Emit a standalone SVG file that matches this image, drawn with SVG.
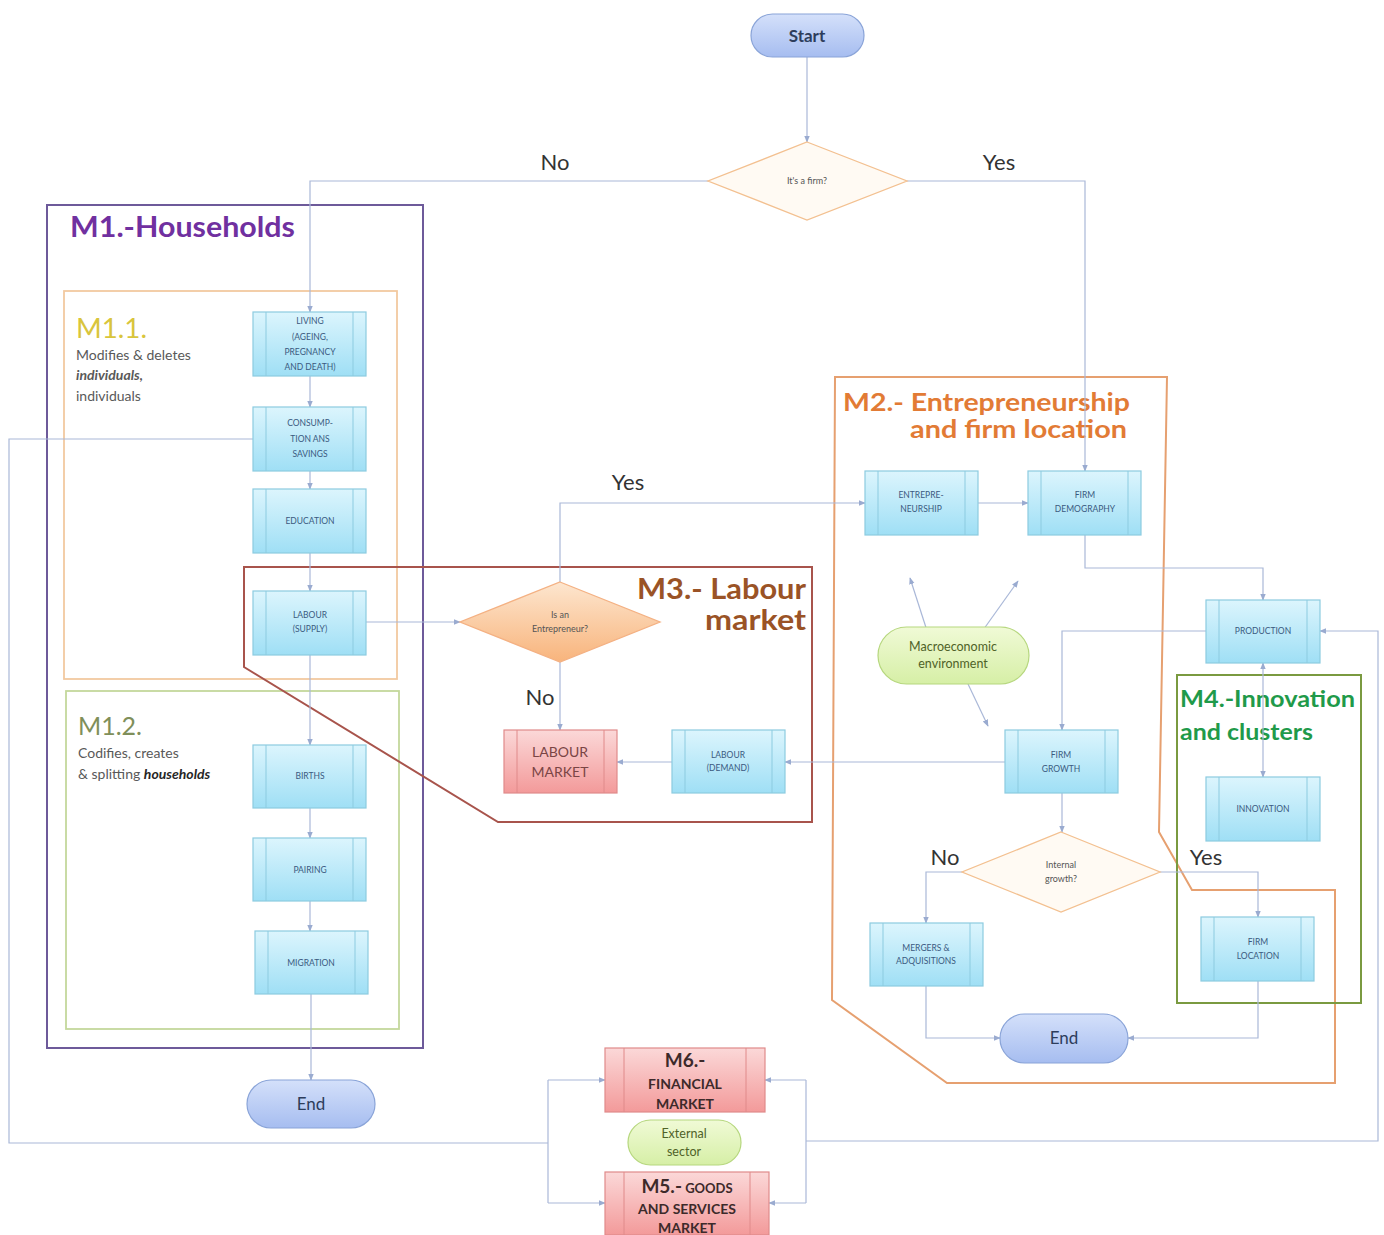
<svg xmlns="http://www.w3.org/2000/svg" width="1384" height="1235" viewBox="0 0 1384 1235">
<defs>
<linearGradient id="gCyan" x1="0" y1="0" x2="0" y2="1"><stop offset="0" stop-color="#dcf5fd"/><stop offset="1" stop-color="#9fdff5"/></linearGradient>
<linearGradient id="gRed" x1="0" y1="0" x2="0" y2="1"><stop offset="0" stop-color="#fbd8d8"/><stop offset="1" stop-color="#f39a9a"/></linearGradient>
<linearGradient id="gBlue" x1="0" y1="0" x2="0" y2="1"><stop offset="0" stop-color="#d4e0fa"/><stop offset="1" stop-color="#a6bdf0"/></linearGradient>
<linearGradient id="gGreen" x1="0" y1="0" x2="0" y2="1"><stop offset="0" stop-color="#f0fad6"/><stop offset="1" stop-color="#d6efa6"/></linearGradient>
<linearGradient id="gOrange" x1="0" y1="0" x2="0" y2="1"><stop offset="0" stop-color="#fde6cf"/><stop offset="1" stop-color="#f8b47c"/></linearGradient>
<marker id="ar" viewBox="0 0 10 10" refX="9" refY="5" markerWidth="7" markerHeight="7" orient="auto-start-reverse" markerUnits="userSpaceOnUse"><path d="M0,1 L10,5 L0,9 z" fill="#9aabd0"/></marker>
</defs>
<style>
.proc rect.o{fill:url(#gCyan);stroke:#8ccbe0;stroke-width:1.2}
.proc line{stroke:#8ccbe0;stroke-width:1}
.proc text{font-family:Lato,"Liberation Sans",sans-serif;font-size:8.5px;fill:#3a5a80;text-anchor:middle}
.red rect.o{fill:url(#gRed);stroke:#e08a8a;stroke-width:1.2}
.red line{stroke:#e08a8a;stroke-width:1}
.red text{font-family:Lato,"Liberation Sans",sans-serif;font-weight:bold;fill:#3d2a2a;text-anchor:middle}
.red text.plain{font-weight:normal;fill:#7a4545;font-size:14px}
.term rect{fill:url(#gBlue);stroke:#8aa4d8;stroke-width:1.2}
.term text{font-family:Lato,"Liberation Sans",sans-serif;font-size:17px;fill:#2d3d5c;text-anchor:middle}
.env rect{fill:url(#gGreen);stroke:#b6d77e;stroke-width:1.2}
.env text{font-family:Lato,"Liberation Sans",sans-serif;font-size:12.5px;fill:#4f6228;text-anchor:middle}
.dec polygon{fill:#fffaf3;stroke:#f3c090;stroke-width:1.3}
.dec text{font-family:Lato,"Liberation Sans",sans-serif;font-size:9px;fill:#555;text-anchor:middle}
.conn path{fill:none;stroke:#aab8d8;stroke-width:1.2}
.lbl{font-family:Lato,"Liberation Sans",sans-serif;font-size:22px;fill:#333}
.desc{font-family:Lato,"Liberation Sans",sans-serif;font-size:14px;fill:#595959}
.title{font-family:Lato,"Liberation Sans",sans-serif;font-weight:bold}
</style>
<rect width="1384" height="1235" fill="#ffffff"/>

<!-- module containers -->
<g id="m1">
<rect x="47" y="205" width="376" height="843" fill="none" stroke="#6d5a9a" stroke-width="2"/>
<text x="70" y="237" class="title" font-size="28" fill="#7030a0" textLength="225" lengthAdjust="spacingAndGlyphs">M1.-Households</text>
</g>
<g id="m11">
<rect x="64" y="291" width="333" height="388" fill="none" stroke="#f2c9a0" stroke-width="1.8"/>
<text x="76" y="338" font-family="Lato,'Liberation Sans',sans-serif" font-size="27" fill="#d9c53c" textLength="71" lengthAdjust="spacingAndGlyphs">M1.1.</text>
<text x="76" y="360" class="desc">Modifies &amp; deletes</text>
<text x="76" y="380" class="desc" font-weight="bold" font-style="italic" fill="#262626">individuals,</text>
<text x="76" y="401" class="desc">individuals</text>
</g>
<g id="m12">
<rect x="66" y="691" width="333" height="338" fill="none" stroke="#c4d89c" stroke-width="1.8"/>
<text x="78" y="735" font-family="Lato,'Liberation Sans',sans-serif" font-size="25" fill="#7f8f5a">M1.2.</text>
<text x="78" y="758" class="desc">Codifies, creates</text>
<text x="78" y="779" class="desc">&amp; splitting <tspan font-weight="bold" font-style="italic" fill="#262626">households</tspan></text>
</g>
<g id="m3">
<polygon points="244,567 812,567 812,822 498,822 244,667" fill="none" stroke="#a8544c" stroke-width="2"/>
<text x="806" y="599" class="title" font-size="28" fill="#9a5326" text-anchor="end" textLength="169" lengthAdjust="spacingAndGlyphs">M3.- Labour</text>
<text x="806" y="630" class="title" font-size="28" fill="#9a5326" text-anchor="end" textLength="101" lengthAdjust="spacingAndGlyphs">market</text>
</g>
<g id="m2">
<polygon points="835,377 1167,377 1159,832 1192,890 1335,890 1335,1083 947,1083 832,1000" fill="none" stroke="#e6a070" stroke-width="2"/>
<text x="843" y="411" class="title" font-size="25" fill="#e27b35" textLength="287" lengthAdjust="spacingAndGlyphs">M2.- Entrepreneurship</text>
<text x="1127" y="438" class="title" font-size="25" fill="#e27b35" text-anchor="end" textLength="217" lengthAdjust="spacingAndGlyphs">and firm location</text>
</g>
<g id="m4">
<rect x="1177" y="675" width="184" height="328" fill="none" stroke="#7a9a40" stroke-width="2"/>
<text x="1180" y="707" class="title" font-size="23" fill="#1f9a4a" textLength="175" lengthAdjust="spacingAndGlyphs">M4.-Innovation</text>
<text x="1180" y="740" class="title" font-size="23" fill="#1f9a4a" textLength="133" lengthAdjust="spacingAndGlyphs">and clusters</text>
</g>

<!-- connectors -->
<g id="connectors" class="conn">
<path d="M807,57 V142" marker-end="url(#ar)"/>
<path d="M708,181 H310 V312" marker-end="url(#ar)"/>
<path d="M907,181 H1085 V471" marker-end="url(#ar)"/>
<path d="M310,376 V407" marker-end="url(#ar)"/>
<path d="M310,471 V489" marker-end="url(#ar)"/>
<path d="M310,553 V591" marker-end="url(#ar)"/>
<path d="M310,655 V745" marker-end="url(#ar)"/>
<path d="M310,808 V838" marker-end="url(#ar)"/>
<path d="M310,901 V931" marker-end="url(#ar)"/>
<path d="M311,994 V1080" marker-end="url(#ar)"/>
<path d="M253,439 H9 V1143 H548"/>
<path d="M548,1080 V1203"/>
<path d="M548,1080 H605" marker-end="url(#ar)"/>
<path d="M548,1203 H605" marker-end="url(#ar)"/>
<path d="M806,1080 V1203"/>
<path d="M806,1080 H765" marker-end="url(#ar)"/>
<path d="M806,1203 H769" marker-end="url(#ar)"/>
<path d="M806,1141 H1378 V631 H1320" marker-end="url(#ar)"/>
<path d="M366,622 H460" marker-end="url(#ar)"/>
<path d="M560,582 V503 H865" marker-end="url(#ar)"/>
<path d="M560,662 V730" marker-end="url(#ar)"/>
<path d="M672,762 H617" marker-end="url(#ar)"/>
<path d="M1005,762 H785" marker-end="url(#ar)"/>
<path d="M978,503 H1028" marker-end="url(#ar)"/>
<path d="M1085,535 V568 H1263 V600" marker-end="url(#ar)"/>
<path d="M1206,631 H1062 V730" marker-end="url(#ar)"/>
<path d="M1263,663 V777" marker-start="url(#ar)" marker-end="url(#ar)"/>
<path d="M930,640 L910,578" marker-end="url(#ar)"/>
<path d="M976,640 L1018,581" marker-end="url(#ar)"/>
<path d="M968,684 L988,726" marker-end="url(#ar)"/>
<path d="M1062,793 V832" marker-end="url(#ar)"/>
<path d="M962,872 H926 V923" marker-end="url(#ar)"/>
<path d="M1160,872 H1258 V917" marker-end="url(#ar)"/>
<path d="M926,986 V1038 H1000" marker-end="url(#ar)"/>
<path d="M1258,981 V1038 H1128" marker-end="url(#ar)"/>
</g>

<!-- branch labels -->
<text x="555" y="170" class="lbl" text-anchor="middle">No</text>
<text x="999" y="170" class="lbl" text-anchor="middle">Yes</text>
<text x="628" y="490" class="lbl" text-anchor="middle">Yes</text>
<text x="540" y="705" class="lbl" text-anchor="middle">No</text>
<text x="945" y="865" class="lbl" text-anchor="middle">No</text>
<text x="1206" y="865" class="lbl" text-anchor="middle">Yes</text>

<!-- terminals -->
<g id="start" class="term"><rect x="751" y="14" width="113" height="43" rx="21.5"/><text x="807" y="42" font-weight="bold" font-size="16">Start</text></g>
<g id="end1" class="term"><rect x="247" y="1080" width="128" height="48" rx="24"/><text x="311" y="1110">End</text></g>
<g id="end2" class="term"><rect x="1000" y="1014" width="128" height="49" rx="24.5"/><text x="1064" y="1044">End</text></g>

<!-- decisions -->
<g id="firm-q" class="dec"><polygon points="807,142 907,181 807,220 708,181"/><text x="807" y="184">It's a firm?</text></g>
<g id="entre-q" class="dec"><polygon points="560,582 660,622 560,662 460,622" style="fill:url(#gOrange);stroke:#f4b183"/><text x="560" y="618">Is an</text><text x="560" y="632">Entrepreneur?</text></g>
<g id="growth-q" class="dec"><polygon points="1061,832 1160,872 1061,912 962,872"/><text x="1061" y="868">Internal</text><text x="1061" y="882">growth?</text></g>

<!-- environments -->
<g id="macro" class="env"><rect x="878" y="627" width="151" height="57" rx="28.5"/><text x="953" y="651">Macroeconomic</text><text x="953" y="668">environment</text></g>
<g id="external" class="env"><rect x="628" y="1120" width="113" height="45" rx="22.5"/><text x="684" y="1138">External</text><text x="684" y="1156">sector</text></g>

<!-- process boxes -->
<g id="living" class="proc"><rect class="o" x="253" y="312" width="113" height="64"/><line x1="266" y1="312" x2="266" y2="376"/><line x1="353" y1="312" x2="353" y2="376"/><text x="310" y="324">LIVING</text><text x="310" y="340">(AGEING,</text><text x="310" y="355">PREGNANCY</text><text x="310" y="370">AND DEATH)</text></g>
<g id="consumption" class="proc"><rect class="o" x="253" y="407" width="113" height="64"/><line x1="266" y1="407" x2="266" y2="471"/><line x1="353" y1="407" x2="353" y2="471"/><text x="310" y="426">CONSUMP-</text><text x="310" y="442">TION  ANS</text><text x="310" y="457">SAVINGS</text></g>
<g id="education" class="proc"><rect class="o" x="253" y="489" width="113" height="64"/><line x1="266" y1="489" x2="266" y2="553"/><line x1="353" y1="489" x2="353" y2="553"/><text x="310" y="524">EDUCATION</text></g>
<g id="labour-supply" class="proc"><rect class="o" x="253" y="591" width="113" height="64"/><line x1="266" y1="591" x2="266" y2="655"/><line x1="353" y1="591" x2="353" y2="655"/><text x="310" y="618">LABOUR</text><text x="310" y="632">(SUPPLY)</text></g>
<g id="births" class="proc"><rect class="o" x="253" y="745" width="113" height="63"/><line x1="266" y1="745" x2="266" y2="808"/><line x1="353" y1="745" x2="353" y2="808"/><text x="310" y="779">BIRTHS</text></g>
<g id="pairing" class="proc"><rect class="o" x="253" y="838" width="113" height="63"/><line x1="266" y1="838" x2="266" y2="901"/><line x1="353" y1="838" x2="353" y2="901"/><text x="310" y="873">PAIRING</text></g>
<g id="migration" class="proc"><rect class="o" x="255" y="931" width="113" height="63"/><line x1="268" y1="931" x2="268" y2="994"/><line x1="355" y1="931" x2="355" y2="994"/><text x="311" y="966">MIGRATION</text></g>
<g id="labour-demand" class="proc"><rect class="o" x="672" y="730" width="113" height="63"/><line x1="685" y1="730" x2="685" y2="793"/><line x1="772" y1="730" x2="772" y2="793"/><text x="728" y="758">LABOUR</text><text x="728" y="771">(DEMAND)</text></g>
<g id="entrepreneurship" class="proc"><rect class="o" x="865" y="471" width="113" height="64"/><line x1="878" y1="471" x2="878" y2="535"/><line x1="965" y1="471" x2="965" y2="535"/><text x="921" y="498">ENTREPRE-</text><text x="921" y="512">NEURSHIP</text></g>
<g id="firm-demography" class="proc"><rect class="o" x="1028" y="471" width="113" height="64"/><line x1="1041" y1="471" x2="1041" y2="535"/><line x1="1128" y1="471" x2="1128" y2="535"/><text x="1085" y="498">FIRM</text><text x="1085" y="512">DEMOGRAPHY</text></g>
<g id="production" class="proc"><rect class="o" x="1206" y="600" width="114" height="63"/><line x1="1219" y1="600" x2="1219" y2="663"/><line x1="1307" y1="600" x2="1307" y2="663"/><text x="1263" y="634">PRODUCTION</text></g>
<g id="firm-growth" class="proc"><rect class="o" x="1005" y="730" width="113" height="63"/><line x1="1018" y1="730" x2="1018" y2="793"/><line x1="1105" y1="730" x2="1105" y2="793"/><text x="1061" y="758">FIRM</text><text x="1061" y="772">GROWTH</text></g>
<g id="innovation" class="proc"><rect class="o" x="1206" y="777" width="114" height="64"/><line x1="1219" y1="777" x2="1219" y2="841"/><line x1="1307" y1="777" x2="1307" y2="841"/><text x="1263" y="812">INNOVATION</text></g>
<g id="mergers" class="proc"><rect class="o" x="870" y="923" width="113" height="63"/><line x1="883" y1="923" x2="883" y2="986"/><line x1="970" y1="923" x2="970" y2="986"/><text x="926" y="951">MERGERS &amp;</text><text x="926" y="964">ADQUISITIONS</text></g>
<g id="firm-location" class="proc"><rect class="o" x="1201" y="917" width="113" height="64"/><line x1="1214" y1="917" x2="1214" y2="981"/><line x1="1301" y1="917" x2="1301" y2="981"/><text x="1258" y="945">FIRM</text><text x="1258" y="959">LOCATION</text></g>

<!-- market boxes -->
<g id="labour-market" class="red"><rect class="o" x="504" y="730" width="113" height="63"/><line x1="517" y1="730" x2="517" y2="793"/><line x1="604" y1="730" x2="604" y2="793"/><text class="plain" x="560" y="757">LABOUR</text><text class="plain" x="560" y="777">MARKET</text></g>
<g id="m6" class="red"><rect class="o" x="605" y="1048" width="160" height="64"/><line x1="624" y1="1048" x2="624" y2="1112"/><line x1="746" y1="1048" x2="746" y2="1112"/><text x="685" y="1067" font-size="19">M6.-</text><text x="685" y="1089" font-size="14">FINANCIAL</text><text x="685" y="1109" font-size="14">MARKET</text></g>
<g id="m5" class="red"><rect class="o" x="605" y="1172" width="164" height="63"/><line x1="624" y1="1172" x2="624" y2="1235"/><line x1="750" y1="1172" x2="750" y2="1235"/><text x="687" y="1193"><tspan font-size="19">M5.-</tspan><tspan font-size="13"> GOODS</tspan></text><text x="687" y="1214" font-size="14">AND SERVICES</text><text x="687" y="1233" font-size="14">MARKET</text></g>
</svg>
